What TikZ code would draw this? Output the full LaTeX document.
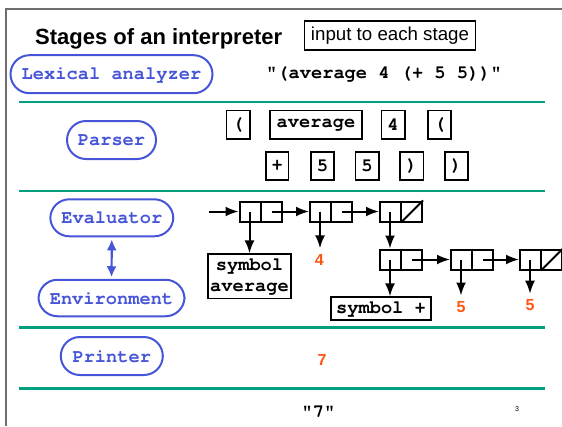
\documentclass[tikz,border=0pt]{standalone}
\usepackage[T1]{fontenc}
\usepackage{fontspec}
\setmainfont{Liberation Sans}
\setmonofont{Liberation Mono}
\usetikzlibrary{arrows.meta,calc}
\definecolor{capblue}{RGB}{70,85,215}
\definecolor{rulegreen}{RGB}{0,160,128}
\definecolor{numorange}{RGB}{255,85,20}
\definecolor{framegray}{RGB}{110,110,110}
\newcommand{\monob}{\fontencoding{T1}\fontfamily{pcr}\fontseries{b}\fontshape{n}\fontsize{18.7}{20.5}\selectfont}
\begin{document}
\begin{tikzpicture}[x=1pt,y=-1pt,
  stage/.style={draw=capblue, line width=2pt, rounded corners=19pt, text=capblue, inner sep=0pt, font=\monob},
  tok/.style={draw, line width=1.8pt, minimum width=23.2pt, minimum height=28.2pt, inner sep=0pt, font=\monob},
  cell/.style={draw, line width=2pt, minimum width=42pt, minimum height=20pt, inner sep=0pt},
  ptr/.style={line width=2pt, -{Latex[length=13pt,width=10pt]}},
  num/.style={text=numorange, inner sep=6pt, font=\fontsize{16}{18}\selectfont\bfseries},
  rule/.style={rulegreen, line width=2.4pt}]
\useasboundingbox (0,0) rectangle (562,426);
\draw[framegray, line width=1.8pt] (6,426) -- (6,9) -- (562,9);
% rules
\draw[rule] (19.3,102) -- (545,102);
\draw[rule] (19.3,191) -- (545,191);
\draw[rule] (19.3,327.3) -- (545,327.3);
\draw[rule] (19.3,388.3) -- (545,388.3);
% title
\node[anchor=base west, inner sep=0pt, font=\fontsize{22}{26}\selectfont\bfseries] (title) at (35,44) {Stages of an interpreter};
\node[draw, line width=1.6pt, minimum width=170.7pt, minimum height=29.1pt, inner sep=0pt, font=\fontsize{18.7}{22}\selectfont] (inp) at (390,35.3) {input to each stage};
% stages
\node[stage, minimum width=202pt, minimum height=38pt] (lex) at (111.5,74.2) {Lexical analyzer};
\node[stage, minimum width=89pt, minimum height=38pt] (parser) at (111.5,140) {Parser};
\node[stage, minimum width=123pt, minimum height=37pt] (ev) at (111.8,217.8) {Evaluator};
\node[stage, minimum width=146pt, minimum height=36.5pt] (env) at (111.5,298) {Environment};
\node[stage, minimum width=102pt, minimum height=38pt] (printer) at (111.8,356) {Printer};
\draw[capblue, line width=2.2pt, {Latex[length=11pt,width=10pt]}-{Latex[length=11pt,width=10pt]}, shorten <=2pt, shorten >=1.5pt] (ev.south) -- (env.north);
% lexer input
\node[font=\monob, inner sep=0pt] (lexin) at (384,74) {"(average 4 (+ 5 5))"};
% parser tokens
\node[tok] (t1) at (238,124.5) {(};
\node[tok, minimum width=92pt] (t2) at (316,124.5) {average};
\node[tok] (t3) at (393,124.5) {4};
\node[tok] (t4) at (439.7,124.5) {(};
\node[tok, minimum width=22.2pt] (t5) at (277.3,166) {+};
\node[tok] (t6) at (322.5,166) {5};
\node[tok] (t7) at (367,166) {5};
\node[tok] (t8) at (411.8,166) {)};
\node[tok] (t9) at (456.2,166) {)};
% cons cells
\node[cell] (c1) at (260.5,211.5) {};
\node[cell] (c2) at (331,211.5) {};
\node[cell] (c3) at (401,211.5) {};
\node[cell] (c4) at (401,259.5) {};
\node[cell] (c5) at (472,259.5) {};
\node[cell] (c6) at (541,259.5) {};
\foreach \c in {c1,c2,c3,c4,c5,c6} {
  \draw[line width=2pt] (\c.north) -- (\c.south);
  \coordinate (\c a) at ($(\c.west)!0.5!(\c.center)$);
  \coordinate (\c d) at ($(\c.center)!0.5!(\c.east)$);
}
\draw[line width=2pt] (c3.south) -- (c3.north east);
\draw[line width=2pt] (c6.south) -- (c6.north east);
\coordinate (start) at (208.5,211.5);
\draw[ptr] (start) -- (c1.west);
\draw[ptr] (c1d) -- (c2.west);
\draw[ptr] (c2d) -- (c3.west);
\draw[ptr] (c4d) -- (c5.west);
\draw[ptr] (c5d) -- (c6.west);
% data
\node[draw, line width=1.8pt, minimum width=82.6pt, minimum height=44.2pt, inner sep=0pt, align=center, font=\monob] (symavg) at (249.5,276.3) {symbol\\average};
\node[draw, line width=1.8pt, minimum width=100.2pt, minimum height=23pt, inner sep=0pt, font=\monob] (symplus) at (381,308.8) {symbol +};
\node[num] (n4) at (319.3,260) {4};
\node[num] (n5a) at (461,307.3) {5};
\node[num] (n5b) at (530,305.5) {5};
\node[num] (n7) at (322,360) {7};
\draw[ptr] (c1a) -- (c1a |- symavg.north);
\draw[ptr] (c2a) -- (c2a |- n4.north);
\draw[ptr] (c3a) -- (c3a |- c4.north);
\draw[ptr] (c4a) -- (c4a |- symplus.north);
\draw[ptr] (c5a) -- (c5a |- n5a.north);
\draw[ptr] (c6a) -- (c6a |- n5b.north);
% printer output
\node[font=\monob, inner sep=0pt] (out) at (318.5,411.7) {"7"};
\node[font=\fontsize{7}{8}\selectfont, inner sep=0pt] (pg) at (517,409) {3};
\end{tikzpicture}
\end{document}
